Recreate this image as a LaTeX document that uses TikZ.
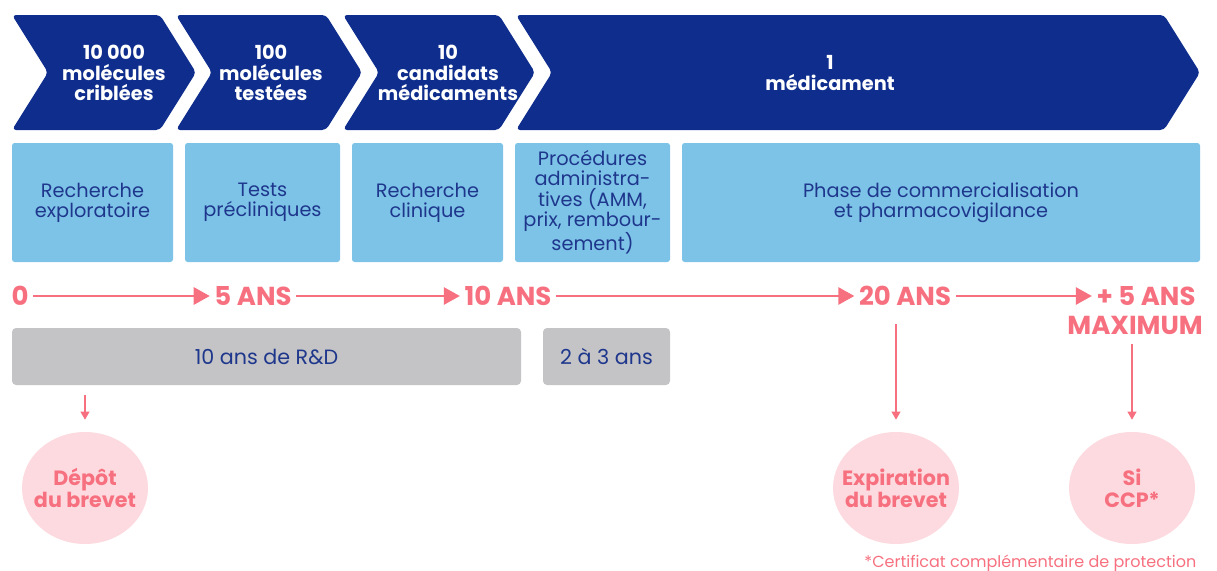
\documentclass[tikz,border=0pt]{standalone}
\usepackage{fontspec}
\setmainfont{Poppins}
\usetikzlibrary{positioning}
\usetikzlibrary{shapes.geometric, arrows.meta}

\definecolor{navy}{RGB}{14,45,140}
\definecolor{skyblue}{RGB}{125,195,232}
\definecolor{inkblue}{RGB}{30,55,140}
\definecolor{rose}{RGB}{247,112,127}
\definecolor{palerose}{RGB}{253,218,223}
\definecolor{greybox}{RGB}{196,196,198}

\tikzset{
  chevron/.style={fill=navy, rounded corners=3pt},
  chevtext/.style={text=white, align=center, font=\bfseries\fontsize{14.5}{15.4}\selectfont},
  stage/.style={fill=skyblue, rounded corners=2pt, text=inkblue, align=center, inner sep=0pt, minimum height=89.25pt, font=\fontsize{14.5}{15.2}\selectfont},
  span/.style={fill=greybox, rounded corners=3pt, text=inkblue, align=center, minimum height=42.75pt, font=\fontsize{15.5}{17}\selectfont},
  year/.style={text=rose, font=\bfseries\fontsize{19.5}{21}\selectfont},
  flow/.style={rose, line width=1.4pt, -{Triangle[length=12pt,width=13pt]}},
  drop/.style={rose, line width=1.2pt, -{Triangle[length=6pt,width=6.5pt]}},
  event/.style={ellipse, fill=palerose, text=rose, align=center, inner sep=-14pt, minimum width=94.5pt, minimum height=84pt, font=\bfseries\fontsize{15.5}{16.5}\selectfont},
}

\begin{document}
\begin{tikzpicture}[x=0.75pt,y=-0.75pt]
\useasboundingbox (0,0) rectangle (1217,571);

% chevrons
\fill[chevron] (12,15) -- (160,15) -- (196,72.5) -- (160,130) -- (12,130) -- (48,72.5) -- cycle;
\fill[chevron] (176,15) -- (326,15) -- (362,72.5) -- (326,130) -- (176,130) -- (212,72.5) -- cycle;
\fill[chevron] (343,15) -- (499,15) -- (535,72.5) -- (499,130) -- (343,130) -- (379,72.5) -- cycle;
\fill[chevron] (516,15) -- (1164,15) -- (1200,72.5) -- (1164,130) -- (516,130) -- (552,72.5) -- cycle;
\node[chevtext] (crible) at (114,73) {10 000\\molécules\\criblées};
\node[chevtext] (teste) at (271,73) {100\\molécules\\testées};
\node[chevtext] (candidat) at (448,73) {10\\candidats\\médicaments};
\node[chevtext] (medic) at (830,73) {1\\médicament};

% stages
\node[stage, minimum width=120.75pt] (explo) at (92.5,202.5) {Recherche\\exploratoire};
\node[stage, minimum width=116.25pt] (preclin) at (262.5,202.5) {Tests\\précliniques};
\node[stage, minimum width=113.25pt] (clin) at (427.5,202.5) {Recherche\\clinique};
\node[stage, minimum width=116.25pt] (admin) at (592.5,202.5) {Procédures\\administra-\\tives (AMM,\\prix, rembour-\\sement)};
\node[stage, minimum width=388.5pt] (commerce) at (941,202.5) {Phase de commercialisation\\et pharmacovigilance};

% timeline
\node[year] (t0) at (20,296) {0};
\node[year] (t5) at (253,296) {5 ANS};
\node[year] (t10) at (508,296) {10 ANS};
\node[year] (t20) at (905,296) {20 ANS};
\node[year] (t25) at (1146,296) {+ 5 ANS};
\node[year, anchor=north east, inner sep=0pt] (maxi) at (1203,316) {MAXIMUM};
\draw[flow] (t0) -- (t5);
\draw[flow] (t5) -- (t10);
\draw[flow] (t10) -- (t20);
\draw[flow] (t20) -- (t25);

% durations
\node[span, minimum width=381.75pt] (rd) at (266.5,356.5) {10 ans de R\&D};
\node[span, minimum width=95.25pt] (admdur) at (606.5,356.5) {2 à 3 ans};

% patent events
\node[event] (depot) at (85,488) {Dépôt\\du brevet};
\node[event] (expir) at (896,488) {Expiration\\du brevet};
\node[event] (ccp) at (1132,488) {Si\\CCP*};
\draw[drop, shorten <=7.5pt, shorten >=9pt] (rd.south -| depot) -- (depot.north);
\draw[drop, shorten <=10pt, shorten >=9pt] (t20.south -| expir) -- (expir.north);
\draw[drop, shorten <=7pt, shorten >=9pt] (maxi.south -| ccp) -- (ccp.north);

\node[text=rose, anchor=east, font=\fontsize{12}{13}\selectfont] (note) at (1201,563) {*Certificat complémentaire de protection};

\end{tikzpicture}
\end{document}
